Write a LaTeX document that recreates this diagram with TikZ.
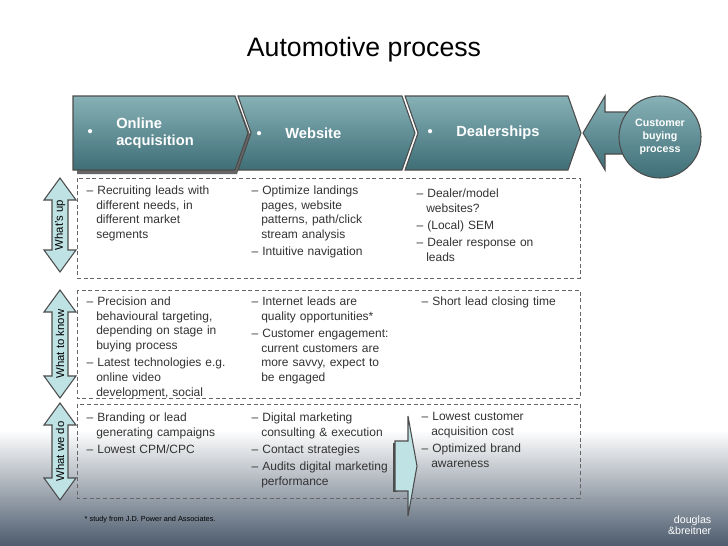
\documentclass[tikz,border=0pt]{standalone}
\usepackage{fontspec}
\setmainfont{Liberation Sans}
\usetikzlibrary{shapes.arrows}
\definecolor{teal1}{HTML}{86B1B6}
\definecolor{teal2}{HTML}{3F6E77}
\definecolor{lcyan}{HTML}{BFE2E5}
\definecolor{slate}{HTML}{4C5B6D}
\definecolor{txt}{HTML}{333333}
\begin{document}
\begin{tikzpicture}[x=0.75pt,y=-0.75pt,
  chev/.style={top color=teal1,bottom color=teal2,draw=black!70,line width=0.8pt},
  head/.style={text=white,font=\bfseries\fontsize{11}{13}\selectfont,align=left,anchor=west},
  box/.style={draw=black!60,densely dashed,line width=0.6pt},
  item/.style={font=\fontsize{9}{11}\selectfont,text=txt,align=left,anchor=north west,text width=#1},
  darr/.style={fill=lcyan,draw=black!70,line width=0.8pt},
  side/.style={rotate=90,font=\fontsize{8.5}{10}\selectfont,text=black}]
\useasboundingbox (0,0) rectangle (728,546);
\shade[top color=white,bottom color=white] (0,0) rectangle (728,430);
\shade[top color=white,bottom color=slate] (0,430) rectangle (728,546);
\node (title) at (364,50) {\fontsize{20}{22}\selectfont Automotive process};
% chevrons
\fill[black!60] (77,100) -- (237,100) -- (251,137) -- (237,174) -- (77,174) -- cycle;
\draw[chev] (73,96) -- (235,96) -- (248,133) -- (235,170) -- (73,170) -- cycle;
\draw[chev] (238,96) -- (402,96) -- (415,133) -- (402,170) -- (238,170) -- (251,133) -- cycle;
\draw[chev] (405,96) -- (568,96) -- (581,133) -- (568,170) -- (405,170) -- (418,133) -- cycle;
\node[head] (h1) at (83,133) {•\hspace{1.6em}\parbox[c]{6em}{Online\\acquisition}};
\node[head] (h2) at (252,133) {•\hspace{1.6em}Website};
\node[head] (h3) at (423,133) {•\hspace{1.6em}Dealerships};
\draw[chev] (583,133) -- (605,96) -- (605,112) -- (630,112) -- (630,154) -- (605,154) -- (605,170) -- cycle;
\node[circle,chev,minimum size=82pt*0.75,inner sep=0pt,text=white,align=center,font=\bfseries\fontsize{8}{10}\selectfont] (cust) at (660,137) {Customer\\buying\\process};
% boxes
\draw[box] (77,178) rectangle (580,278);
\draw[box] (77,290) rectangle (580,398);
\draw[box] (77,404) rectangle (580,498);
% double arrows
\foreach \a/\b/\l in {178/272/What's up,290/398/What to know,403/500/What we do}{
  \draw[darr] (60,\a) -- (76,\a+22) -- (68,\a+22) -- (68,\b-22) -- (76,\b-22) -- (60,\b) -- (44,\b-22) -- (52,\b-22) -- (52,\a+22) -- (44,\a+22) -- cycle;
  \node[side] at (60,{(\a+\b)/2}) {\l};}
% row 1
\node[item=150pt*0.75] (r1a) at (82,181) {– Recruiting leads with\\\hspace{0.8em}different needs, in\\\hspace{0.8em}different market\\\hspace{0.8em}segments};
\node[item=150pt*0.75] (r1b) at (247,181) {– Optimize landings\\\hspace{0.8em}pages, website\\\hspace{0.8em}patterns, path/click\\\hspace{0.8em}stream analysis\\[2pt]– Intuitive navigation};
\node[item=150pt*0.75] (r1c) at (412,184) {– Dealer/model\\\hspace{0.8em}websites?\\[2pt]– (Local) SEM\\[2pt]– Dealer response on\\\hspace{0.8em}leads};
% row 2
\node[item=160pt*0.75] (r2a) at (82,292) {– Precision and\\\hspace{0.8em}behavioural targeting,\\\hspace{0.8em}depending on stage in\\\hspace{0.8em}buying process\\[2pt]– Latest technologies e.g.\\\hspace{0.8em}online video\\\hspace{0.8em}development, social};
\node[item=160pt*0.75] (r2b) at (247,292) {– Internet leads are\\\hspace{0.8em}quality opportunities*\\[2pt]– Customer engagement:\\\hspace{0.8em}current customers are\\\hspace{0.8em}more savvy, expect to\\\hspace{0.8em}be engaged};
\node[item=160pt*0.75] (r2c) at (417,292) {– Short lead closing time};
% row 3
\node[item=160pt*0.75] (r3a) at (82,408) {– Branding or lead\\\hspace{0.8em}generating campaigns\\[2pt]– Lowest CPM/CPC};
\node[item=160pt*0.75] (r3b) at (247,408) {– Digital marketing\\\hspace{0.8em}consulting \& execution\\[2pt]– Contact strategies\\[2pt]– Audits digital marketing\\\hspace{0.8em}performance};
\node[item=160pt*0.75] (r3c) at (417,408) {– Lowest customer\\\hspace{0.8em}acquisition cost\\[2pt]– Optimized brand\\\hspace{0.8em}awareness};
\fill[black!70] (393,443) rectangle (398,492);
\draw[darr] (395,441) -- (408,441) -- (408,416) -- (417,466) -- (408,516) -- (408,491) -- (395,491) -- cycle;
% footnote and logo
\node[anchor=west,font=\fontsize{5.5}{6}\selectfont] (fn) at (80,520) {* study from J.D. Power and Associates.};
\node[anchor=east,text=white,align=right,font=\fontsize{8}{8.5}\selectfont] (logo) at (716,525) {douglas\\\&breitner};
\end{tikzpicture}
\end{document}
